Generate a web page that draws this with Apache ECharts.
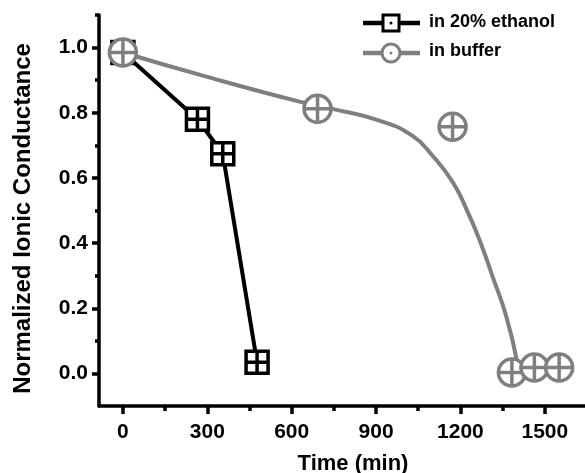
<!DOCTYPE html>
<html>
<head>
<meta charset="utf-8">
<script src="https://cdn.jsdelivr.net/npm/echarts@6/dist/echarts.min.js"></script>
<style>
html,body{margin:0;padding:0;background:#fff;}
#c{width:585px;height:473px;}
</style>
</head>
<body>
<div id="c"></div>
<script>
// Data
var timeEthanol = [0, 265, 355, 477];
var condEthanol = [0.985, 0.78, 0.674, 0.034];
var timeBuffer = [0, 692, 1172, 1383, 1463, 1551];
var condBuffer = [0.985, 0.812, 0.757, 0.003, 0.018, 0.018];
// Fitted guide curve for buffer
var fitTime = [0, 300, 628, 745, 912, 1030, 1101, 1172, 1221, 1267, 1314, 1363, 1402];
var fitCond = [0.985, 0.91, 0.834, 0.812, 0.776, 0.729, 0.668, 0.588, 0.505, 0.412, 0.298, 0.175, 0.034];
var xMajorTicks = [0, 300, 600, 900, 1200, 1500];
var xMinorTicks = [150, 450, 750, 1050, 1350, 1650];
var yMajorTicks = [0.0, 0.2, 0.4, 0.6, 0.8, 1.0];
var yMinorTicks = [0.1, 0.3, 0.5, 0.7, 0.9, 1.1];
var seriesNames = ['in 20% ethanol', 'in buffer'];
var xTitle = 'Time (min)';
var yTitle = 'Normalized Ionic Conductance';

function zip(a, b) { return a.map(function (v, i) { return [v, b[i]]; }); }

var FONT = "'Liberation Sans', Arial, sans-serif";
var GRAY = '#7f7f7f';
var SQ = 'path://M0,0H20V20H0ZM10,0V20M0,10H20';
var CI = 'path://M10,0A10,10,0,1,1,10,20A10,10,0,1,1,10,0ZM10,0V20M0,10H20';

var gridBox = {left: 99, top: 15, width: 488, height: 391};
var xRange = {min: -85, max: 1650};
var yRange = {min: -0.1, max: 1.1};

var chart = echarts.init(document.getElementById('c'), null, {renderer: 'canvas'});
var option = {
  backgroundColor: '#fff',
  animation: false,
  grid: Object.assign({containLabel: false, outerBoundsMode: 'none'}, gridBox),
  xAxis: [{
    type: 'value', min: xRange.min, max: xRange.max, position: 'bottom',
    name: xTitle, nameLocation: 'middle', nameGap: 47,
    nameTextStyle: {fontFamily: FONT, fontWeight: 'bold', fontSize: 22, color: '#000', padding: [0, 0, 0, 20]},
    axisLine: {show: true, onZero: false, lineStyle: {color: '#000', width: 3.5}},
    axisTick: {show: true, customValues: xMajorTicks, length: 8, inside: false, lineStyle: {color: '#000', width: 3.5}},
    axisLabel: {show: true, customValues: xMajorTicks, margin: 16, fontFamily: FONT, fontWeight: 'bold', fontSize: 21, color: '#000',
      formatter: function (v) { return String(v); }},
    splitLine: {show: false}
  }, {
    type: 'value', min: xRange.min, max: xRange.max, position: 'bottom', gridIndex: 0,
    axisLine: {show: false, onZero: false},
    axisTick: {show: true, customValues: xMinorTicks, length: 5, inside: false, lineStyle: {color: '#000', width: 3.5}},
    axisLabel: {show: false},
    splitLine: {show: false}
  }],
  yAxis: [{
    type: 'value', min: yRange.min, max: yRange.max, position: 'left',
    name: yTitle, nameLocation: 'middle', nameGap: 64,
    nameTextStyle: {fontFamily: FONT, fontWeight: 'bold', fontSize: 24, color: '#000', padding: [0, 16, 0, 0]},
    axisLine: {show: true, onZero: false, lineStyle: {color: '#000', width: 3.5}},
    axisTick: {show: true, customValues: yMajorTicks, length: 7, inside: false, lineStyle: {color: '#000', width: 3.5}},
    axisLabel: {show: true, customValues: yMajorTicks, margin: 11, fontFamily: FONT, fontWeight: 'bold', fontSize: 21, color: '#000',
      formatter: function (v) { return v.toFixed(1); }},
    splitLine: {show: false}
  }, {
    type: 'value', min: yRange.min, max: yRange.max, position: 'left', gridIndex: 0,
    axisLine: {show: false, onZero: false},
    axisTick: {show: true, customValues: yMinorTicks, length: 4, inside: false, lineStyle: {color: '#000', width: 3.5}},
    axisLabel: {show: false},
    splitLine: {show: false}
  }],
  series: [{
    name: seriesNames[0], type: 'line', xAxisIndex: 0, yAxisIndex: 0,
    data: zip(timeEthanol, condEthanol),
    symbol: SQ, symbolSize: 22, showAllSymbol: true,
    lineStyle: {color: '#000', width: 4},
    itemStyle: {color: '#fff', borderColor: '#000', borderWidth: 3.5},
    z: 3
  }, {
    name: 'fit', type: 'line', xAxisIndex: 0, yAxisIndex: 0,
    data: zip(fitTime, fitCond),
    symbol: 'none', smooth: 0.5,
    lineStyle: {color: GRAY, width: 4},
    z: 2
  }, {
    name: seriesNames[1], type: 'scatter', xAxisIndex: 0, yAxisIndex: 0,
    data: zip(timeBuffer, condBuffer),
    symbol: CI, symbolSize: 27,
    itemStyle: {color: '#fff', borderColor: GRAY, borderWidth: 3.5, opacity: 1},
    z: 4
  }],
  graphic: [
    {type: 'line', shape: {x1: 363, y1: 23, x2: 420, y2: 23}, style: {stroke: '#000', lineWidth: 4.5}, z: 10},
    {type: 'rect', shape: {x: 383, y: 15, width: 16, height: 16}, style: {fill: '#fff', stroke: '#000', lineWidth: 3}, z: 11},
    {type: 'circle', shape: {cx: 391, cy: 23, r: 1.5}, style: {fill: '#000'}, z: 12},
    {type: 'text', left: 429, top: 13, style: {text: seriesNames[0], fontFamily: FONT, fontWeight: 'bold', fontSize: 18, fill: '#000'}, z: 10},
    {type: 'line', shape: {x1: 363, y1: 53, x2: 420, y2: 53}, style: {stroke: GRAY, lineWidth: 4.5}, z: 10},
    {type: 'circle', shape: {cx: 391, cy: 53, r: 9}, style: {fill: '#fff', stroke: GRAY, lineWidth: 3}, z: 11},
    {type: 'circle', shape: {cx: 391, cy: 53, r: 1.5}, style: {fill: GRAY}, z: 12},
    {type: 'text', left: 429, top: 42, style: {text: seriesNames[1], fontFamily: FONT, fontWeight: 'bold', fontSize: 18, fill: '#000'}, z: 10}
  ]
};
chart.setOption(option);
</script>
</body>
</html>
